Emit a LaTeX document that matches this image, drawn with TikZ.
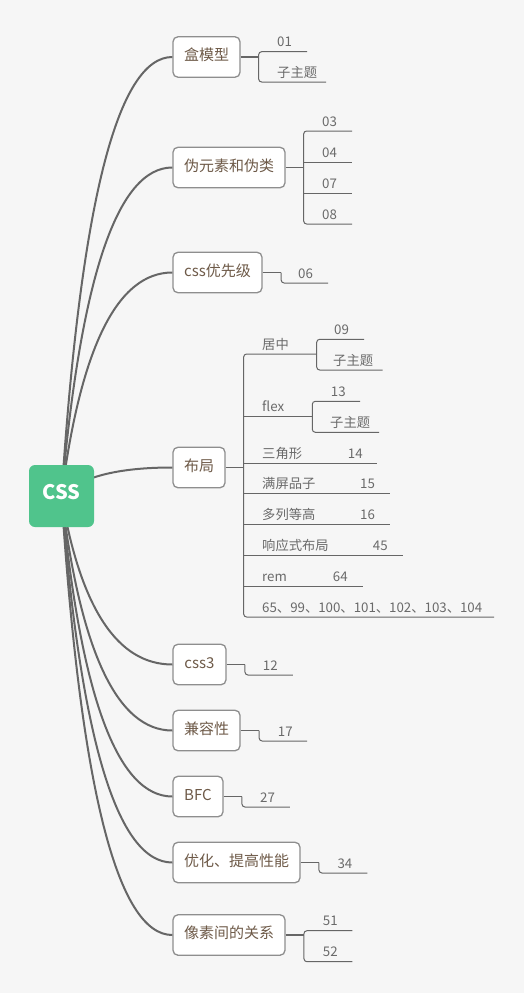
\documentclass[tikz,border=0pt]{standalone}
\usepackage{fontspec}
\setmainfont{Noto Sans CJK SC}
\usetikzlibrary{calc}
\definecolor{bgc}{HTML}{F6F6F6}
\definecolor{linec}{HTML}{666666}
\definecolor{boxborder}{HTML}{8E8E8E}
\definecolor{boxtext}{HTML}{6E5A48}
\definecolor{leafc}{HTML}{6A6A6A}
\definecolor{greenc}{HTML}{50C48C}
\newcommand\leaftx[4]{\node[leaftext] (#1) at (#2,#3-5) {#4};}
\begin{document}
\begin{tikzpicture}[x=1pt,y=-1pt,
 topic/.style={draw=boxborder, line width=1.3pt, fill=white, rounded corners=5pt,
   minimum height=40.5pt, inner sep=0pt, text=boxtext,
   font=\fontsize{15}{18}\selectfont, text height=0.88em, text depth=0.12em},
 central/.style={fill=greenc, rounded corners=6pt, minimum width=65pt, minimum height=62pt,
   inner sep=0pt, text=white, font=\fontsize{20}{24}\selectfont\bfseries,
   text height=0.73em, text depth=0pt},
 branch/.style={draw=linec, line width=2pt},
 stub/.style={draw=linec, line width=1.8pt},
 subline/.style={draw=linec, line width=1pt, rounded corners=3pt},
 leaftext/.style={anchor=base west, inner sep=0pt, text=leafc, font=\fontsize{13.3}{15}\selectfont},
]
\fill[bgc] (0,0) rectangle (524,993);
\useasboundingbox (0,0) rectangle (524,993);

% main topics
\node[topic, minimum width=67pt]  (b1) at (206.5,57)    {盒模型};
\node[topic, minimum width=112pt] (b2) at (229,167.5)   {伪元素和伪类};
\node[topic, minimum width=89pt]  (b3) at (217.5,272.5) {css优先级};
\node[topic, minimum width=52pt]  (b4) at (199,467.5)   {布局};
\node[topic, minimum width=53pt]  (b5) at (199.5,664.5) {css3};
\node[topic, minimum width=67pt]  (b6) at (206.5,730.5) {兼容性};
\node[topic, minimum width=50pt]  (b7) at (198,796.5)   {BFC};
\node[topic, minimum width=127pt] (b8) at (236.5,862.5) {优化、提高性能};
\node[topic, minimum width=112pt] (b9) at (229,935)     {像素间的关系};

% branches from the central topic
\coordinate (csc) at (61.5,496);
\coordinate (cx) at (90,496);
\foreach \b in {b1,b2,b3,b4,b5,b6,b7,b8,b9}{
  \draw[branch] (csc) .. controls ($(csc)!2/3!(\b.west -| cx)$) and ($(\b.west)!2/3!(\b.west -| cx)$) .. (\b.west);
}
\node[central] (css) at (csc) {CSS};

% 盒模型
\draw[stub] (b1.east) -- ++(18,0) coordinate (f1);
\draw[subline] (307,51.7) -- (f1 |- 0,51.7) -- (f1 |- 0,82) -- (326,82);
\leaftx{l11}{277}{51.7}{01}
\leaftx{l12}{277}{82}{子主题}

% 伪元素和伪类
\draw[stub] (b2.east) -- ++(18,0) coordinate (f2);
\draw[subline] (352,131) -- (f2 |- 0,131) -- (f2 |- 0,224) -- (352,224);
\draw[subline] (f2 |- 0,162) -- (352,162);
\draw[subline] (f2 |- 0,193) -- (352,193);
\leaftx{l21}{322}{131}{03}
\leaftx{l22}{322}{162}{04}
\leaftx{l23}{322}{193}{07}
\leaftx{l24}{322}{224}{08}

% css优先级
\draw[stub] (b3.east) -- ++(18.5,0) coordinate (f3);
\draw[subline] (f3) -- ++(0,10.5) -- ++(47,0);
\leaftx{l31}{298}{283}{06}

% 布局
\draw[stub] (b4.east) -- ++(18,0) coordinate (f4);
\draw[subline] (316.7,354) -- (f4 |- 0,354) -- (f4 |- 0,617) -- (494,617);
\draw[subline] (f4 |- 0,416.7) -- (312.3,416.7);
\draw[subline] (f4 |- 0,463.3) -- (376.7,463.3);
\draw[subline] (f4 |- 0,493.3) -- (390,493.3);
\draw[subline] (f4 |- 0,524) -- (390,524);
\draw[subline] (f4 |- 0,555) -- (402.7,555);
\draw[subline] (f4 |- 0,586) -- (362.7,586);
\leaftx{l41}{262}{354}{居中}
\leaftx{l42}{262}{416.7}{flex}
\leaftx{l43}{262}{463.3}{三角形}
\leaftx{l43n}{347.7}{463.3}{14}
\leaftx{l44}{262}{493.3}{满屏品子}
\leaftx{l44n}{360}{493.3}{15}
\leaftx{l45}{262}{524}{多列等高}
\leaftx{l45n}{360}{524}{16}
\leaftx{l46}{262}{555}{响应式布局}
\leaftx{l46n}{372.7}{555}{45}
\leaftx{l47}{262}{586}{rem}
\leaftx{l47n}{332.7}{586}{64}
\leaftx{l48}{262}{617}{65、99、100、101、102、103、104}
% 居中 children
\draw[subline] (364,339.3) -- (316.7,339.3) -- (316.7,370) -- (382.7,370);
\leaftx{l411}{334}{339.3}{09}
\leaftx{l412}{333}{370}{子主题}
% flex children
\draw[subline] (360,401.3) -- (312.3,401.3) -- (312.3,432.3) -- (379,432.3);
\leaftx{l421}{330.7}{401.3}{13}
\leaftx{l422}{330}{432.3}{子主题}

% css3
\draw[stub] (b5.east) -- ++(18.3,0) coordinate (f5);
\draw[subline] (f5) -- ++(0,10.5) -- ++(48,0);
\leaftx{l51}{262.7}{675}{12}

% 兼容性
\draw[stub] (b6.east) -- ++(18.5,0) coordinate (f6);
\draw[subline] (f6) -- ++(0,10.5) -- ++(48,0);
\leaftx{l61}{277.7}{741}{17}

% BFC
\draw[stub] (b7.east) -- ++(18.3,0) coordinate (f7);
\draw[subline] (f7) -- ++(0,10.5) -- ++(48,0);
\leaftx{l71}{260}{807}{27}

% 优化、提高性能
\draw[stub] (b8.east) -- ++(18.3,0) coordinate (f8);
\draw[subline] (f8) -- ++(0,10.5) -- ++(48.4,0);
\leaftx{l81}{337.3}{873}{34}

% 像素间的关系
\draw[stub] (b9.east) -- ++(18.3,0) coordinate (f9);
\draw[subline] (352.3,930.7) -- (f9 |- 0,930.7) -- (f9 |- 0,961.7) -- (352.3,961.7);
\leaftx{l91}{322.7}{930.7}{51}
\leaftx{l92}{322.7}{961.7}{52}
\end{tikzpicture}
\end{document}
